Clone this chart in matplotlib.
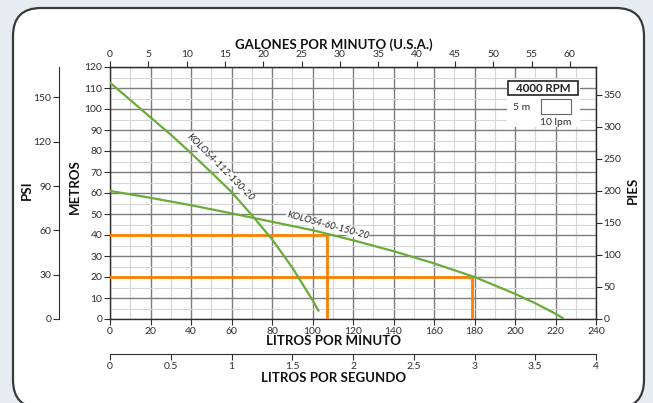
import matplotlib
matplotlib.use('Agg')
import matplotlib.pyplot as plt
from matplotlib.patches import FancyBboxPatch, Rectangle

plt.rcParams['font.family'] = ['Lato', 'DejaVu Sans']

W, H = 653, 403

# curva KOLOS4-112-130-20 (litros por minuto, metros)
q1 = [0, 10, 20, 30, 40, 50, 60, 70, 80, 90, 100, 102.9]
h1 = [112.5, 104.3, 96, 87.8, 79, 69.8, 60.5, 49.5, 38, 24.5, 9, 4]
# curva KOLOS4-60-150-20
q2 = [0, 20, 40, 60, 80, 100, 120, 140, 160, 180, 200, 210, 220, 223.5]
h2 = [61, 57.7, 54.2, 50.3, 46.3, 42.3, 37.5, 32.3, 26.5, 20, 12, 7.5, 2.5, 0.5]
# puntos de trabajo (lpm, metros)
op_q = [107, 179]
op_h = [40, 20]

lpm_ticks = list(range(0, 241, 20))
m_ticks = list(range(0, 121, 10))
gpm_ticks = list(range(0, 61, 5))
psi_ticks = [0, 30, 60, 90, 120, 150]
ft_ticks = list(range(0, 351, 50))
lps_ticks = [0, 0.5, 1, 1.5, 2, 2.5, 3, 3.5, 4]
lps_labels = ['0', '0.5', '1', '1.5', '2', '2.5', '3', '3.5', '4']

GREEN = '#6aab3a'
ORANGE = '#ff8000'
DARK = '#2e2e2e'


def fx(px):
    return px / W


def fy(py):
    return 1 - py / H


fig = plt.figure(figsize=(W / 100, H / 100), dpi=100)
fig.patch.set_facecolor('#e7ecf3')

# fondo con marco redondeado
bg = fig.add_axes([0, 0, 1, 1], zorder=-1)
bg.set_xlim(0, W)
bg.set_ylim(H, 0)
bg.axis('off')
bg.add_patch(FancyBboxPatch((13, 8), 631, 400, boxstyle='round,pad=0,rounding_size=28',
                            facecolor='white', edgecolor='#3a3a3a', linewidth=1.6))

ax = fig.add_axes([fx(110), fy(319), 486 / W, 252 / H])
ax.set_xlim(0, 240)
ax.set_ylim(0, 120)
ax.set_axisbelow(True)

ax.set_xticks(lpm_ticks)
ax.set_xticks(range(10, 240, 20), minor=True)
ax.set_yticks(m_ticks)
ax.set_yticks(range(5, 120, 10), minor=True)
ax.grid(which='major', color='#7c7c7c', linewidth=1.0)
ax.grid(which='minor', color='#d6d6d6', linewidth=0.8)
ax.tick_params(which='minor', length=0)
ax.tick_params(which='major', length=4, width=0.8, color=DARK, labelcolor=DARK,
               labelsize=7.5, pad=1.5)
for s in ax.spines.values():
    s.set_color(DARK)
    s.set_linewidth(1.0)

# leyenda
ax.add_patch(Rectangle((196, 91.5), 36, 23, facecolor='white', edgecolor='none', zorder=1))
ax.add_patch(Rectangle((196.5, 106.7), 34.6, 6.6, facecolor='white', edgecolor='#222222',
                       linewidth=1.2, zorder=3))
ax.text(213.8, 110, '4000 RPM', ha='center', va='center', fontsize=8.3,
        fontweight='bold', color='#222222', zorder=4)
ax.add_patch(Rectangle((212.8, 97.6), 14.8, 7.2, facecolor='white', edgecolor='#666666',
                       linewidth=0.8, zorder=3))
ax.text(203, 100.6, '5 m', ha='center', va='center', fontsize=7.5, color=DARK, zorder=4)
ax.text(220, 93.6, '10 lpm', ha='center', va='center', fontsize=7.5, color=DARK, zorder=4)

# lineas de trabajo
for q, h in zip(op_q, op_h):
    ax.plot([0, q, q], [h, h, 0], color=ORANGE, linewidth=2.0, zorder=3,
            solid_joinstyle='miter')

ax.plot(q1, h1, color=GREEN, linewidth=1.6, zorder=4)
ax.plot(q2, h2, color=GREEN, linewidth=1.6, zorder=4)

ax.text(54.5, 72.3, 'KOLOS4-112-130-20', rotation=-45, ha='center', va='center',
        fontsize=7, style='italic', color='#222222', zorder=5,
        bbox=dict(facecolor='white', edgecolor='none', pad=0.3))
ax.text(107.5, 44.6, 'KOLOS4-60-150-20', rotation=-15, ha='center', va='center',
        fontsize=7, style='italic', color='#222222', zorder=5,
        bbox=dict(facecolor='white', edgecolor='none', pad=0.3))

tick_kw = dict(length=4, width=0.8, color=DARK, labelcolor=DARK, labelsize=7.5, pad=1.5)

# PSI
ax_psi = ax.twinx()
ax_psi.set_ylim(0, 120 * 1.4219)
ax_psi.spines['left'].set_position(('axes', -0.105))
ax_psi.yaxis.set_ticks_position('left')
for k in ['right', 'top', 'bottom']:
    ax_psi.spines[k].set_visible(False)
ax_psi.spines['left'].set_color(DARK)
ax_psi.set_yticks(psi_ticks)
ax_psi.tick_params(axis='y', **tick_kw)

# PIES
ax_ft = ax.twinx()
ax_ft.set_ylim(0, 120 * 3.2808)
for k in ['left', 'top', 'bottom']:
    ax_ft.spines[k].set_visible(False)
ax_ft.spines['right'].set_color(DARK)
ax_ft.set_yticks(ft_ticks)
ax_ft.tick_params(axis='y', **tick_kw)

# galones por minuto
ax_g = ax.twiny()
ax_g.set_xlim(0, 240 / 3.7854)
for k in ['left', 'right', 'bottom']:
    ax_g.spines[k].set_visible(False)
ax_g.spines['top'].set_color(DARK)
ax_g.set_xticks(gpm_ticks)
ax_g.tick_params(axis='x', **tick_kw)

# litros por segundo
ax_s = ax.twiny()
ax_s.set_xlim(0, 4)
ax_s.spines['bottom'].set_position(('axes', -0.139))
ax_s.xaxis.set_ticks_position('bottom')
for k in ['left', 'right', 'top']:
    ax_s.spines[k].set_visible(False)
ax_s.spines['bottom'].set_color(DARK)
ax_s.set_xticks(lps_ticks)
ax_s.set_xticklabels(lps_labels)
ax_s.tick_params(axis='x', **tick_kw)

lab = dict(fontsize=9.5, fontweight='bold', color='#111111', ha='center', va='center')
fig.text(fx(334), fy(45), 'GALONES POR MINUTO (U.S.A.)', **lab)
fig.text(fx(334), fy(341), 'LITROS POR MINUTO', **lab)
fig.text(fx(334), fy(378), 'LITROS POR SEGUNDO', **lab)
fig.text(fx(27), fy(190), 'PSI', rotation=90, **lab)
fig.text(fx(75), fy(187), 'METROS', rotation=90, **lab)
fig.text(fx(633), fy(190), 'PIES', rotation=90, **lab)

fig.savefig('out.png', dpi=100, facecolor=fig.get_facecolor())
